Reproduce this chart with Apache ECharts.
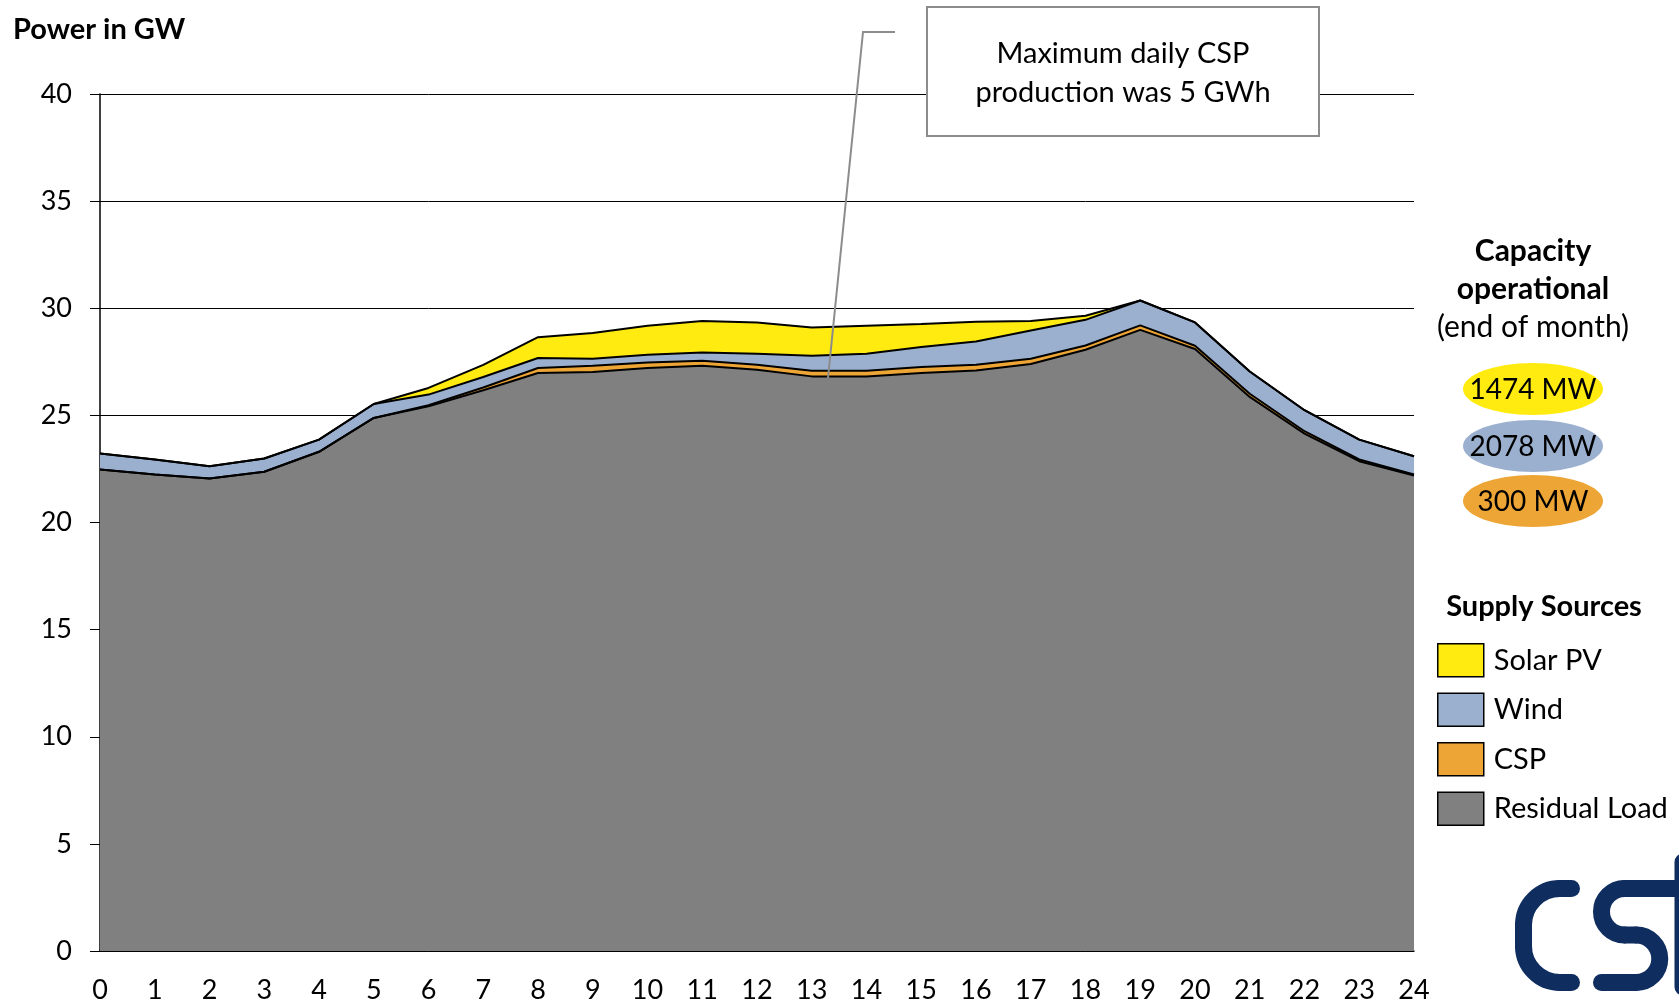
<!DOCTYPE html>
<html>
<head>
<meta charset="utf-8">
<script src="https://cdn.jsdelivr.net/npm/echarts@6/dist/echarts.min.js"></script>
<style>
  html, body { margin: 0; padding: 0; background: #fff; }
  #chart { width: 1679px; height: 1004px; }
</style>
</head>
<body>
<div id="chart"></div>
<script>
// ---------- data (GW, hourly, stacked bottom to top) ----------
const hours = ['0','1','2','3','4','5','6','7','8','9','10','11','12','13','14','15','16','17','18','19','20','21','22','23','24'];
const residualLoad = [22.47, 22.24, 22.05, 22.37, 23.3, 24.88, 25.42, 26.17, 26.98, 27.02, 27.21, 27.32, 27.13, 26.82, 26.82, 26.98, 27.1, 27.4, 28.06, 28.99, 28.1, 25.86, 24.15, 22.86, 22.19];
const csp = [0, 0, 0, 0, 0, 0, 0.05, 0.13, 0.23, 0.3, 0.26, 0.23, 0.23, 0.26, 0.26, 0.28, 0.26, 0.24, 0.2, 0.21, 0.15, 0.15, 0.11, 0.08, 0.05];
const wind = [0.75, 0.7, 0.58, 0.62, 0.57, 0.65, 0.5, 0.49, 0.47, 0.32, 0.36, 0.39, 0.52, 0.7, 0.8, 0.93, 1.09, 1.32, 1.2, 1.16, 1.09, 1.04, 0.98, 0.93, 0.85];
const solarPV = [0, 0, 0, 0, 0, 0, 0.31, 0.57, 0.97, 1.2, 1.35, 1.47, 1.46, 1.32, 1.3, 1.07, 0.92, 0.45, 0.19, 0, 0, 0, 0, 0, 0];

const capacityLabels = ['1474 MW', '2078 MW', '300 MW'];
const legendNames = ['Solar PV', 'Wind', 'CSP', 'Residual Load'];

const FONT = 'Lato, "Open Sans", sans-serif';
const colors = { solar: '#FFEB0F', wind: '#9BB0CF', csp: '#EDA535', residual: '#808080' };
const LOGO = '#0f2d5e';

function areaSeries(name, data, color) {
    return {
        name: name, type: 'line', stack: 'total', data: data,
        symbol: 'none', smooth: false,
        itemStyle: { color: color },
        lineStyle: { color: '#000', width: 2 },
        areaStyle: { color: color, opacity: 1 },
        emphasis: { disabled: true }
    };
}

function label(x, y, text, size, bold) {
    return { type: 'text', z: 11,
        style: { x: x, y: y, text: text, fontSize: size, fontWeight: bold ? 'bold' : 'normal',
                 fontFamily: FONT, fill: '#000', align: 'center', verticalAlign: 'middle' } };
}

// logo strokes
function stroke(el) {
    el.z = 10;
    el.style = { stroke: LOGO, lineWidth: 17, fill: null, lineCap: 'round' };
    return el;
}

const chart = echarts.init(document.getElementById('chart'));

const option = {
    animation: false,
    textStyle: { fontFamily: FONT },
    grid: { left: 100, right: 265, top: 94, bottom: 51, containLabel: false },
    xAxis: {
        type: 'category', data: hours, boundaryGap: false,
        axisLine: { lineStyle: { color: '#000', width: 1.5 } },
        axisTick: { show: false },
        axisLabel: { color: '#000', fontSize: 27, fontFamily: FONT, margin: 26, interval: 0 },
        splitLine: { show: false }
    },
    yAxis: {
        type: 'value', min: 0, max: 40, interval: 5,
        axisLine: { show: true, lineStyle: { color: '#000', width: 1.5 } },
        axisTick: { show: true, length: 10, lineStyle: { color: '#000', width: 1 } },
        axisLabel: { color: '#000', fontSize: 27, fontFamily: FONT, margin: 28 },
        splitLine: { show: true, lineStyle: { color: '#000', width: 1 } }
    },
    legend: {
        data: legendNames,
        orient: 'vertical', left: 1432, top: 638,
        icon: 'rect', itemWidth: 46, itemHeight: 33, itemGap: 15,
        itemStyle: { borderColor: '#000', borderWidth: 1.5 },
        textStyle: { color: '#000', fontSize: 29, fontFamily: FONT, padding: [0, 0, 0, 5] },
        selectedMode: false
    },
    series: [
        areaSeries('Residual Load', residualLoad, colors.residual),
        areaSeries('CSP', csp, colors.csp),
        areaSeries('Wind', wind, colors.wind),
        areaSeries('Solar PV', solarPV, colors.solar)
    ],
    graphic: [
        // title
        { type: 'text', z: 10,
          style: { x: 13, y: 30, text: 'Power in GW', fontSize: 29, fontWeight: 'bold', fontFamily: FONT,
                   fill: '#000', align: 'left', verticalAlign: 'middle' } },
        // annotation leader line
        { type: 'polyline', z: 10,
          shape: { points: [[895, 32], [863, 32], [828, 378]] },
          style: { stroke: '#8c8c8c', lineWidth: 2, fill: null } },
        // annotation box
        { type: 'rect', z: 10,
          shape: { x: 927, y: 7, width: 392, height: 129 },
          style: { fill: '#fff', stroke: '#8c8c8c', lineWidth: 2 } },
        label(1123, 54, 'Maximum daily CSP', 29, false),
        label(1123, 93, 'production was 5 GWh', 29, false),
        // capacity block
        label(1533, 251, 'Capacity', 30, true),
        label(1533, 289, 'operational', 30, true),
        label(1533, 327, '(end of month)', 30, false),
        { type: 'ellipse', z: 10, shape: { cx: 1533, cy: 389, rx: 70, ry: 26 }, style: { fill: colors.solar } },
        { type: 'ellipse', z: 10, shape: { cx: 1533, cy: 446, rx: 70, ry: 26 }, style: { fill: colors.wind } },
        { type: 'ellipse', z: 10, shape: { cx: 1533, cy: 501, rx: 70, ry: 26 }, style: { fill: colors.csp } },
        label(1533, 390, capacityLabels[0], 28, false),
        label(1533, 447, capacityLabels[1], 28, false),
        label(1533, 502, capacityLabels[2], 28, false),
        // legend heading
        label(1544, 607, 'Supply Sources', 29, true),
        // logo, cropped at the right edge
        stroke({ type: 'line', shape: { x1: 1560, y1: 888.5, x2: 1571.5, y2: 888.5 } }),
        stroke({ type: 'line', shape: { x1: 1560, y1: 982.5, x2: 1571.5, y2: 982.5 } }),
        stroke({ type: 'line', shape: { x1: 1523.5, y1: 925, x2: 1523.5, y2: 946 } }),
        stroke({ type: 'arc', shape: { cx: 1560, cy: 925, r: 36.5, startAngle: Math.PI, endAngle: Math.PI * 1.5, clockwise: true } }),
        stroke({ type: 'arc', shape: { cx: 1560, cy: 946, r: 36.5, startAngle: Math.PI / 2, endAngle: Math.PI, clockwise: true } }),
        stroke({ type: 'line', shape: { x1: 1624.75, y1: 888.5, x2: 1675, y2: 888.5 } }),
        stroke({ type: 'arc', shape: { cx: 1624.75, cy: 911.75, r: 23.25, startAngle: Math.PI / 2, endAngle: Math.PI * 1.5, clockwise: true } }),
        stroke({ type: 'line', shape: { x1: 1624.75, y1: 935, x2: 1636, y2: 935 } }),
        stroke({ type: 'arc', shape: { cx: 1636, cy: 958.75, r: 23.75, startAngle: -Math.PI / 2, endAngle: Math.PI / 2, clockwise: true } }),
        stroke({ type: 'line', shape: { x1: 1601.5, y1: 982.5, x2: 1636, y2: 982.5 } }),
        stroke({ type: 'line', shape: { x1: 1683, y1: 862, x2: 1683, y2: 987 } })
    ]
};

chart.setOption(option);
</script>
</body>
</html>
